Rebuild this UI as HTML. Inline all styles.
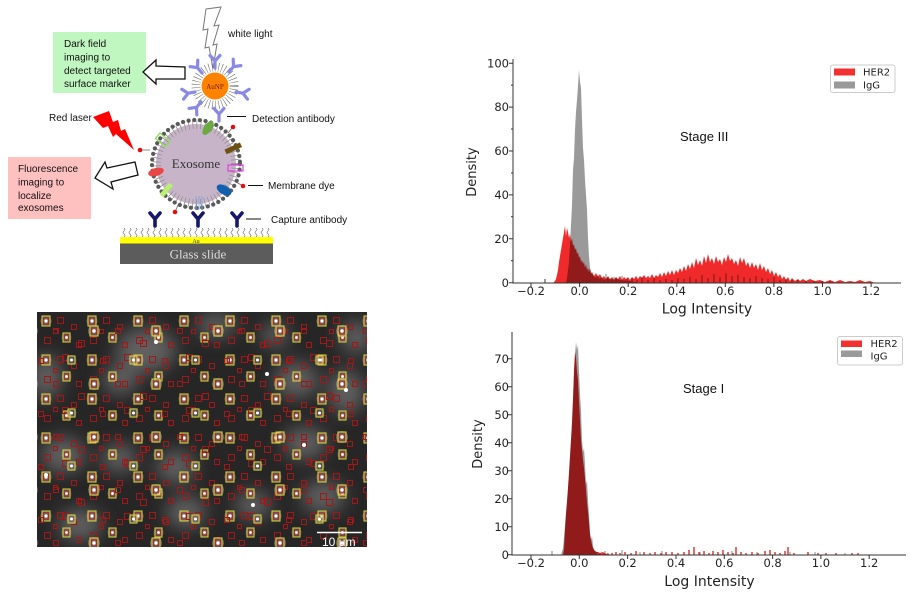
<!DOCTYPE html>
<html><head><meta charset="utf-8"><style>
html,body{margin:0;padding:0;background:#fff;width:911px;height:592px;overflow:hidden}
svg{display:block}
.d{font-family:"Liberation Sans",Arial,sans-serif;fill:#111}
.m{font-family:"DejaVu Sans","Liberation Sans",sans-serif;fill:#222}
</style></head><body>
<svg width="911" height="592" viewBox="0 0 911 592" xmlns="http://www.w3.org/2000/svg">
<defs>
 <g id="ab"><path d="M0,0 V-7 M0,-7 L-5,-12.5 M0,-7 L5,-12.5" stroke="#8a8ae6" stroke-width="3.2" stroke-linecap="round" fill="none"/></g>
 <g id="cab"><path d="M0,0 V-7 M0,-7 L-5,-13 M0,-7 L5,-13" stroke="#16166a" stroke-width="3.6" stroke-linecap="round" fill="none"/></g>
 <pattern id="sq" x="121" y="228" width="6" height="9" patternUnits="userSpaceOnUse">
  <path d="M3,0 q2,1.5 0,3 q-2,1.5 0,3 q2,1.5 0,3" stroke="#777" stroke-width=".7" fill="none"/>
 </pattern>
 <filter id="bl" x="-50%" y="-50%" width="200%" height="200%"><feGaussianBlur stdDeviation="9"/></filter>
 <clipPath id="mc"><rect x="37" y="312" width="330" height="235"/></clipPath>
 <pattern id="p1" x="37" y="312" width="46" height="39" patternUnits="userSpaceOnUse">
  <circle cx="9" cy="9" r="5.5" fill="#bbb" opacity=".35"/>
  <rect x="5" y="4" width="8" height="10" fill="none" stroke="#d2ca3a" stroke-width="1.1"/>
  <rect x="6.5" y="6" width="5" height="6" fill="#7a6a6a" stroke="#b02626" stroke-width=".9"/>
  <circle cx="9" cy="9" r="1.6" fill="#fff"/>
  <rect x="20.5" y="5.5" width="6" height="6" fill="none" stroke="#a51616" stroke-width="1"/>
  <rect x="34.5" y="12.5" width="5" height="5" fill="none" stroke="#a51616" stroke-width="1"/>
  <circle cx="29.5" cy="25.5" r="5" fill="#bbb" opacity=".3"/>
  <rect x="26" y="21" width="7" height="9" fill="none" stroke="#d2ca3a" stroke-width="1.1"/>
  <rect x="27.5" y="23" width="4" height="5" fill="#7a6a6a" stroke="#b02626" stroke-width=".8"/>
  <circle cx="29.5" cy="25.5" r="1.4" fill="#fff"/>
  <rect x="7.5" y="25.5" width="6" height="6" fill="none" stroke="#a51616" stroke-width="1"/>
  <rect x="39.5" y="30.5" width="5" height="5" fill="none" stroke="#a51616" stroke-width="1"/>
  <rect x="16.5" y="17.5" width="4" height="4" fill="none" stroke="#a51616" stroke-width="1"/>
 </pattern>
 <pattern id="p2" x="50" y="318" width="62" height="53" patternUnits="userSpaceOnUse">
  <circle cx="44" cy="13" r="6" fill="#ccc" opacity=".35"/>
  <rect x="40" y="8" width="8" height="10" fill="none" stroke="#d2ca3a" stroke-width="1.1"/>
  <rect x="41.5" y="10" width="5" height="6" fill="#7a6a6a" stroke="#b02626" stroke-width=".9"/>
  <circle cx="44" cy="13" r="1.7" fill="#fff"/>
  <rect x="12.5" y="36.5" width="6" height="6" fill="none" stroke="#a51616" stroke-width="1"/>
  <circle cx="21.5" cy="42" r="5" fill="#bbb" opacity=".3"/>
  <rect x="18" y="38" width="7" height="8" fill="none" stroke="#d2ca3a" stroke-width="1.1"/>
  <circle cx="21.5" cy="42" r="1.5" fill="#fff"/>
  <rect x="50.5" y="40.5" width="5" height="5" fill="none" stroke="#a51616" stroke-width="1"/>
  <rect x="3.5" y="10.5" width="5" height="5" fill="none" stroke="#a51616" stroke-width="1"/>
  <rect x="28.5" y="22.5" width="6" height="6" fill="none" stroke="#a51616" stroke-width="1"/>
 </pattern>
</defs>

<!-- ===== Diagram ===== -->
<rect x="53" y="32" width="93" height="61" fill="#c0f7c0"/>
<text class="d" font-size="10" x="64" y="47">Dark field</text>
<text class="d" font-size="10" x="64" y="60.5">imaging to</text>
<text class="d" font-size="10" x="64" y="74">detect targeted</text>
<text class="d" font-size="10" x="64" y="87">surface marker</text>
<rect x="8" y="157" width="83" height="62" fill="#ffc0c0"/>
<text class="d" font-size="10" x="18" y="172">Fluorescence</text>
<text class="d" font-size="10" x="18" y="185.5">imaging to</text>
<text class="d" font-size="10" x="18" y="199">localize</text>
<text class="d" font-size="10" x="18" y="211">exosomes</text>
<polygon points="143,72 156,60 156,66 185,67 185,79 156,79 156,84" fill="#fff" stroke="#111" stroke-width="1.3"/>
<polygon points="95,178 105,162 107,168 135,162 138,175 111,182 113,189" fill="#fff" stroke="#111" stroke-width="1.3"/>
<polygon points="206,9 221,7 214,26 219,25 213,45 217,44 213,68 209,47 205,48 208,29 203,30" fill="#fff" stroke="#777" stroke-width="1"/>
<text class="d" font-size="10" x="228" y="37">white light</text>
<circle cx="215" cy="86" r="19" fill="none" stroke="#777" stroke-width="9" stroke-dasharray="0.6 2.6"/>
<use href="#ab" transform="translate(202,73) rotate(-40)"/>
<use href="#ab" transform="translate(229,72) rotate(40)"/>
<use href="#ab" transform="translate(195,92) rotate(-100)"/>
<use href="#ab" transform="translate(236,92) rotate(100)"/>
<use href="#ab" transform="translate(201,102) rotate(-140)"/>
<use href="#ab" transform="translate(215,68) rotate(0)"/>
<circle cx="215" cy="86" r="13.5" fill="#ff8200"/>
<text x="215" y="89" font-size="7" text-anchor="middle" font-family="Liberation Serif,serif" fill="#6a1a00">AuNP</text>
<polygon points="93,117 109,111 113,122 118,120 121,131 125,129 134,150 116,134 113,137 108,126 103,128" fill="#ff0000"/>
<text class="d" font-size="10" x="49" y="121">Red laser</text>
<circle cx="196" cy="164" r="40" fill="#c8b4c8"/>
<circle cx="196" cy="164" r="39" fill="none" stroke="#8a8a8a" stroke-width="8" stroke-dasharray="0.7 3.3"/>
<circle cx="196" cy="164" r="44" fill="none" stroke="#5a5a5a" stroke-width="4.2" stroke-linecap="round" stroke-dasharray="0.1 5.6"/>
<ellipse cx="208" cy="128" rx="4" ry="8" fill="#6aaa40" transform="rotate(35 208 128)"/>
<rect x="156" y="136" width="13" height="7" fill="none" stroke="#8fdc60" stroke-width="1.3" transform="rotate(40 162 140)"/>
<rect x="225" y="146" width="17" height="5" fill="#6e5010" transform="rotate(-25 233 149)"/>
<rect x="228" y="165" width="15" height="6" fill="none" stroke="#e040e0" stroke-width="1.2"/>
<ellipse cx="156" cy="172" rx="8" ry="4" fill="#e84848" transform="rotate(-15 156 172)"/>
<ellipse cx="224" cy="190" rx="8" ry="4.5" fill="#1060b0" transform="rotate(30 224 190)"/>
<rect x="164" y="183" width="5" height="15" fill="#b8f070" transform="rotate(40 167 190)"/>
<path d="M196,196 v14 M199,196 v14 M202,196 v14" stroke="#8aa8d8" stroke-width="1"/>
<text x="196" y="168" font-size="13" text-anchor="middle" font-family="Liberation Serif,serif" fill="#333">Exosome</text>
<use href="#ab" transform="translate(219,121) rotate(0)"/>
<path d="M140,150 L150,150 M233,127 L228,133 M243,186 L236,182 M175,212 L178,205" stroke="#666" stroke-width=".8"/>
<circle cx="140" cy="150" r="2.3" fill="#e01010"/>
<circle cx="233" cy="127" r="2.3" fill="#e01010"/>
<circle cx="243" cy="186" r="2.3" fill="#e01010"/>
<circle cx="175" cy="212" r="2.3" fill="#e01010"/>
<path d="M227,116.5 H246 M248,185.5 H263 M246,219 H261" stroke="#111" stroke-width="1"/>
<text class="d" font-size="10" x="252" y="122">Detection antibody</text>
<text class="d" font-size="10" x="268" y="189">Membrane dye</text>
<text class="d" font-size="10" x="271" y="223">Capture antibody</text>
<use href="#cab" transform="translate(155,226)"/>
<use href="#cab" transform="translate(198,226)"/>
<use href="#cab" transform="translate(237,226)"/>
<rect x="121" y="228" width="150" height="9" fill="url(#sq)"/>
<rect x="120" y="237" width="153" height="6.5" fill="#ffff00"/>
<text x="196" y="243" font-size="6" text-anchor="middle" font-family="Liberation Serif,serif" fill="#333">Au</text>
<rect x="120" y="243.5" width="153" height="20.5" fill="#5c5c5c"/>
<text x="198" y="258.5" font-size="13" text-anchor="middle" font-family="Liberation Serif,serif" fill="#ddd">Glass slide</text>

<!-- ===== Micrograph ===== -->
<g clip-path="url(#mc)">
 <rect x="37" y="312" width="330" height="235" fill="#262626"/>
 <g filter="url(#bl)" fill="#707070" opacity=".8">
  <ellipse cx="146" cy="350" rx="30" ry="22"/>
  <ellipse cx="120" cy="380" rx="18" ry="14"/>
  <ellipse cx="46" cy="377" rx="16" ry="22"/>
  <ellipse cx="63" cy="455" rx="22" ry="18"/>
  <ellipse cx="119" cy="458" rx="18" ry="14"/>
  <ellipse cx="176" cy="467" rx="20" ry="16"/>
  <ellipse cx="296" cy="380" rx="22" ry="18"/>
  <ellipse cx="305" cy="443" rx="22" ry="16"/>
  <ellipse cx="346" cy="392" rx="18" ry="22"/>
  <ellipse cx="323" cy="497" rx="22" ry="16"/>
  <ellipse cx="186" cy="512" rx="20" ry="16"/>
  <ellipse cx="253" cy="505" rx="18" ry="14"/>
  <ellipse cx="356" cy="337" rx="16" ry="16"/>
  <ellipse cx="216" cy="325" rx="20" ry="12"/>
  <ellipse cx="80" cy="525" rx="22" ry="16"/>
  <ellipse cx="275" cy="335" rx="14" ry="12"/>
 </g>
 <rect x="37" y="312" width="330" height="235" fill="url(#p1)"/>
 <rect x="37" y="312" width="330" height="235" fill="url(#p2)"/>
 <g fill="#fff">
  <circle cx="267" cy="374" r="2"/><circle cx="346" cy="390" r="2"/><circle cx="304" cy="445" r="2"/><circle cx="46" cy="475" r="2"/><circle cx="156" cy="342" r="2"/><circle cx="253" cy="505" r="2"/>
 </g>
 <line x1="317" y1="532.5" x2="362" y2="532.5" stroke="#fff" stroke-width="1.6"/>
 <text x="322" y="546" font-size="12" font-family="Liberation Sans,sans-serif" fill="#fff">10 μm</text>
</g>

<!-- ===== Chart 1 (Stage III) ===== -->
<g>
 <polygon fill="#9a9a9a" points="544,283 544,279 546,279 546,283 566,283 567,278 568,270 569,262 570,245 571,225 572,205 573,170 574,158 575,130 576,112 577,100 578,86 579,70 580,82 581,88 582,120 583,148 584,160 585,180 586,195 587,210 588,238 589,256 590,268 591,272 593,275 595,278 597,276 599,279 601,277 604,280 607,277 610,280 615,278 620,280 630,281 640,283"/>
 <path d="M598,283v-8 M602,283v-5 M606,283v-9 M610,283v-4 M614,283v-6 M618,283v-3 M622,283v-7 M627,283v-4 M632,283v-5 M637,283v-3 M642,283v-6 M648,283v-3 M654,283v-5 M660,283v-3 M666,283v-4 M672,283v-3 M678,283v-5 M684,283v-4 M690,283v-6 M696,283v-4 M702,283v-8 M708,283v-5 M714,283v-9 M720,283v-6 M726,283v-10 M732,283v-7 M738,283v-8 M744,283v-6 M750,283v-5 M756,283v-7 M762,283v-5 M768,283v-4 M774,283v-6 M780,283v-3 M786,283v-4 M792,283v-3 M798,283v-3 M806,283v-2 M814,283v-2 M822,283v-2 M830,283v-2" stroke="#a8a8a8" stroke-width="1.5"/>
 <polygon fill="#f02a2a" style="mix-blend-mode:multiply" points="553,283 555,281 556,279 557,275 558,270 559,262 560,256 561,250 562,244 563,238 564,232 565,226 566,236 567,228 568,232 569,238 570,234 571,242 572,238 573,246 574,244 575,250 576,248 577,254 578,252 579,258 580,256 581,262 582,260 583,264 584,262 585,268 586,264 587,270 588,268 589,272 590,268 591,274 592,272 594,276 596,273 598,277 600,274 602,278 604,276 606,279 608,276 610,279 612,277 614,280 616,277 618,279 620,276 622,280 624,277 626,279 628,277 630,280 632,277 634,279 636,276 638,279 640,276 642,278 644,275 646,278 648,276 650,278 652,274 654,278 656,275 658,277 660,273 662,277 664,272 666,276 668,271 670,275 672,270 674,275 676,270 678,273 680,268 682,272 684,266 686,271 688,264 690,269 692,262 694,268 696,258 698,265 700,260 702,266 704,256 706,263 708,254 710,262 712,258 714,264 716,256 718,262 720,259 722,265 724,257 726,262 728,254 730,261 732,258 734,264 736,260 738,266 740,257 742,263 744,258 746,266 748,262 750,268 752,262 754,268 756,264 758,270 760,263 762,270 764,266 766,272 768,268 770,274 772,270 774,276 776,272 778,277 780,274 782,279 784,276 786,280 788,277 790,281 792,278 795,281 798,279 800,281 803,279 806,281 810,279 815,281 820,280 825,282 830,280 835,282 840,280 845,282 850,281 855,282 860,280 865,282 870,281 875,283"/>
 <path d="M513,59 V283 H901" stroke="#333" stroke-width="1" fill="none"/>
 <path d="M513,282.7h-4 M513,238.8h-4 M513,194.9h-4 M513,151h-4 M513,107.1h-4 M513,63.2h-4 M513,260.7h-2 M513,216.8h-2 M513,173h-2 M513,129h-2 M513,85.1h-2 M531,283v4 M579.6,283v4 M628.2,283v4 M676.8,283v4 M725.3,283v4 M773.9,283v4 M822.5,283v4 M871.1,283v4" stroke="#333" stroke-width="1"/>
 <g class="m" font-size="11.5" text-anchor="end">
  <text x="509" y="287">0</text><text x="509" y="243">20</text><text x="509" y="199">40</text><text x="509" y="155">60</text><text x="509" y="111">80</text><text x="509" y="67.5">100</text>
 </g>
 <g class="m" font-size="11.5" text-anchor="middle">
  <text x="531" y="295">−0.2</text><text x="579.6" y="295">0.0</text><text x="628.2" y="295">0.2</text><text x="676.8" y="295">0.4</text><text x="725.3" y="295">0.6</text><text x="773.9" y="295">0.8</text><text x="822.5" y="295">1.0</text><text x="871.1" y="295">1.2</text>
 </g>
 <text class="m" font-size="14" x="707" y="313.5" text-anchor="middle">Log Intensity</text>
 <text class="m" font-size="13" text-anchor="middle" transform="translate(476,172) rotate(-90)">Density</text>
 <text class="d" font-size="13" x="680" y="141">Stage III</text>
 <rect x="830.5" y="65" width="64.5" height="27.5" rx="2.5" fill="#fff" stroke="#ccc"/>
 <rect x="834" y="68.5" width="21" height="7" fill="#f23030"/>
 <rect x="834" y="81.5" width="21" height="7" fill="#9a9a9a"/>
 <text class="m" font-size="10" x="863" y="75.5">HER2</text>
 <text class="m" font-size="10" x="863" y="88.5">IgG</text>
</g>

<!-- ===== Chart 2 (Stage I) ===== -->
<g>
 <polygon fill="#9a9a9a" points="561,555 562,552 563,548 564,538 565,525 566,512 567,500 568,488 569,470 570,455 571,440 572,420 573,398 574,375 575,355 576,342 577,350 578,345 579,372 580,395 581,410 582,440 583,452 584,448 585,465 586,485 587,480 588,500 589,515 590,532 591,540 592,536 593,546 594,550 596,552 598,553 600,554 602,555"/>
 <path d="M552,555v-4 M605,555v-4 M622,555v-5 M640,555v-3 M662,555v-4 M700,555v-3 M732,555v-4 M757,555v-3 M790,555v-3 M815,555v-3 M845,555v-2" stroke="#a8a8a8" stroke-width="1.4"/>
 <polygon fill="#f02a2a" style="mix-blend-mode:multiply" points="563,555 564,549 565,530 566,515 567,503 568,488 569,475 570,458 571,440 572,425 573,400 574,370 575,352 576,358 577,372 578,380 579,402 580,420 581,440 582,450 583,460 584,468 585,478 586,490 587,502 588,512 589,522 590,535 591,540 592,545 593,548 595,551 597,552 600,553 603,552 606,554 608,553 610,555"/>
 <path d="M598,555v-3 M603,555v-2 M612,555v-2 M616,555v-3 M620,555v-2 M625,555v-3 M631,555v-2 M636,555v-4 M644,555v-3 M650,555v-2 M655,555v-3 M661,555v-2 M666,555v-3 M672,555v-3 M678,555v-2 M684,555v-3 M689,555v-5 M694,555v-8 M699,555v-3 M704,555v-4 M709,555v-2 M713,555v-4 M718,555v-3 M723,555v-5 M728,555v-3 M733,555v-2 M736,555v-8 M741,555v-3 M746,555v-2 M752,555v-3 M758,555v-2 M765,555v-4 M770,555v-5 M775,555v-3 M780,555v-2 M785,555v-4 M788,555v-8 M794,555v-2 M808,555v-3 M818,555v-2 M826,555v-2 M836,555v-2 M852,555v-2 M858,555v-2" stroke="#e02a2a" stroke-width="1.4"/>
 <path d="M512,332 V555 H906" stroke="#333" stroke-width="1" fill="none"/>
 <path d="M512,554.7h-4 M512,526.7h-4 M512,498.7h-4 M512,470.7h-4 M512,442.7h-4 M512,414.7h-4 M512,386.7h-4 M512,358.7h-4 M531,555v4 M579.3,555v4 M627.6,555v4 M676,555v4 M724.3,555v4 M772.6,555v4 M820.9,555v4 M869.2,555v4" stroke="#333" stroke-width="1"/>
 <g class="m" font-size="11.5" text-anchor="end">
  <text x="509" y="559">0</text><text x="509" y="531">10</text><text x="509" y="503">20</text><text x="509" y="475">30</text><text x="509" y="447">40</text><text x="509" y="419">50</text><text x="509" y="391">60</text><text x="509" y="363">70</text>
 </g>
 <g class="m" font-size="11.5" text-anchor="middle">
  <text x="531" y="567">−0.2</text><text x="579.3" y="567">0.0</text><text x="627.6" y="567">0.2</text><text x="676" y="567">0.4</text><text x="724.3" y="567">0.6</text><text x="772.6" y="567">0.8</text><text x="820.9" y="567">1.0</text><text x="869.2" y="567">1.2</text>
 </g>
 <text class="m" font-size="14" x="709.5" y="586" text-anchor="middle">Log Intensity</text>
 <text class="m" font-size="13" text-anchor="middle" transform="translate(482,444) rotate(-90)">Density</text>
 <text class="d" font-size="13" x="683" y="393">Stage I</text>
 <rect x="837.5" y="336.5" width="65" height="28.5" rx="2.5" fill="#fff" stroke="#ccc"/>
 <rect x="841" y="340.5" width="21" height="6.5" fill="#f23030"/>
 <rect x="841" y="350.5" width="21" height="6.5" fill="#9a9a9a"/>
 <text class="m" font-size="10" x="870.5" y="347">HER2</text>
 <text class="m" font-size="10" x="870.5" y="359.5">IgG</text>
</g>
</svg>
</body></html>
